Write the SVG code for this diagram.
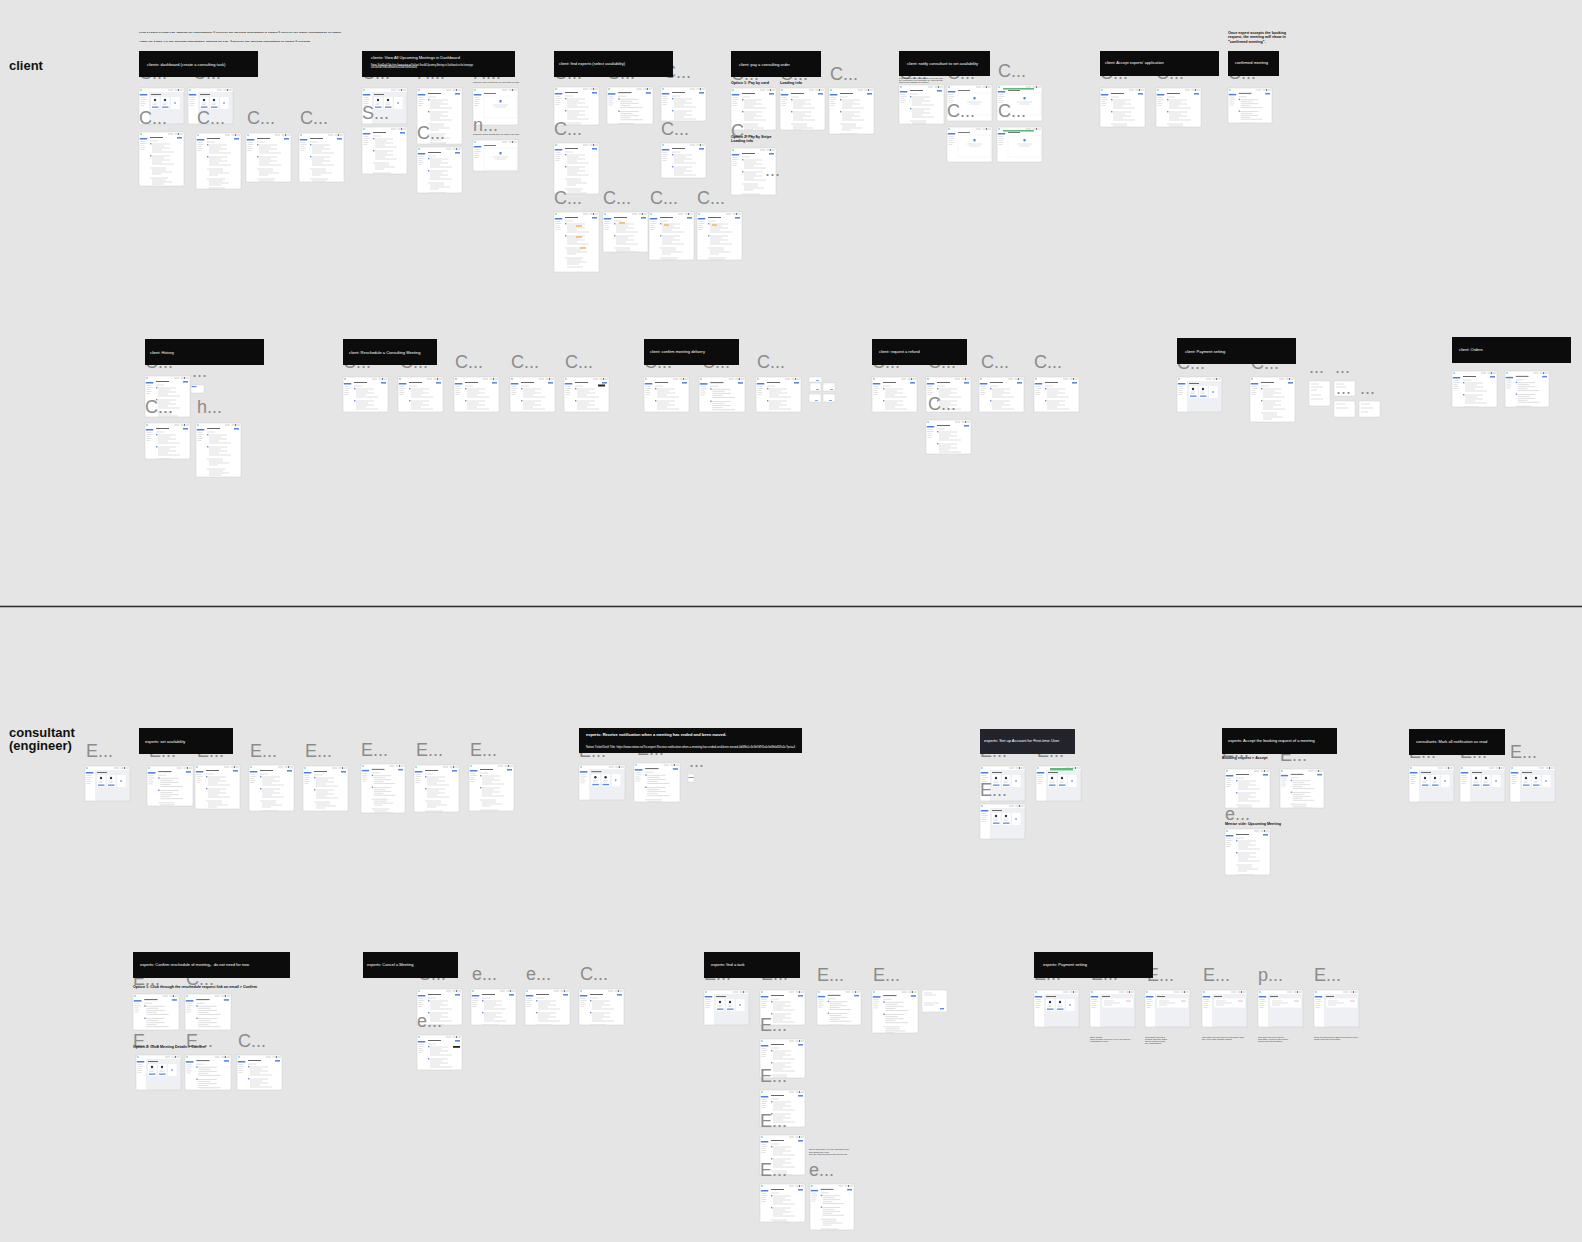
<svg xmlns="http://www.w3.org/2000/svg" xmlns:xlink="http://www.w3.org/1999/xlink" width="1582" height="1242" viewBox="0 0 1582 1242">
<style>
.hd{fill:#0c0c0c}
.ht{fill:#fff;font-family:"Liberation Sans",Arial,"Noto Sans CJK SC",sans-serif;font-size:4px}
.lb{fill:#8c8c8c;font-family:"Liberation Sans",Arial,sans-serif;font-size:18px}
.b{fill:none;stroke:#cdcdcd;stroke-width:.5}
.sc{fill:#fff;stroke:#cdcdcd;stroke-width:.4}
.nt{fill:#111;font-family:"Liberation Sans",Arial,sans-serif;font-weight:bold;font-size:3.7px}
.tt{fill:#333;font-family:"Liberation Sans",Arial,sans-serif;font-size:2.2px}
.sec{fill:#111;font-family:"Liberation Sans",Arial,sans-serif;font-weight:bold;font-size:13px}
.gr{fill:#5dbb7a}
</style>
<defs>
<g id="chr">
<rect width="45" height="60" fill="#fff"/>
<circle cx="2" cy="2" r=".8" fill="#35b5c5"/>
<path d="M29 2h5M35.5 2h2.5M41 2h3" stroke="#b5b5b5" stroke-width=".7"/>
<circle cx="39.5" cy="2" r=".8" fill="#333"/>
<rect x=".8" y="6" width="7.5" height="1.5" fill="#4d7fd9"/>
<path d="M1.5 9.5h5M1.5 11.5h6M1.5 13.5h4M1.5 15.5h5M1.5 17.5h4" stroke="#c4c4c4" stroke-width=".5"/>
</g>
<symbol id="ui" viewBox="0 0 45 60" preserveAspectRatio="xMinYMin slice">
<use href="#chr"/>
<path d="M11 5.5h13" stroke="#555" stroke-width=".9"/>
<rect x="38" y="5" width="5" height="1.6" fill="#5b8be0"/>
<path d="M11 9h8M11 12h20M13 14h12M13 16h18M13 18h10M13 20h22M11 24h20M13 26h12M13 28h18M13 30h10M13 32h22M11 36h16M13 38h14M13 40h20M13 42h9M11 46h18M13 48h14M13 50h20M13 52h12M13 55h16" stroke="#bdbdbd" stroke-width=".5"/>
<rect x="11" y="11" width="1.3" height="1.3" fill="#6a8fd8"/>
<rect x="11" y="23" width="1.3" height="1.3" fill="#6a8fd8"/>
</symbol>
<symbol id="ui2" viewBox="0 0 45 60" preserveAspectRatio="xMinYMin slice">
<use href="#chr"/>
<rect x="10" y="4" width="35" height="56" fill="#eef0f4"/>
<path d="M12 6.5h10" stroke="#444" stroke-width=".8"/>
<rect x="12" y="9" width="8.5" height="12" fill="#fff"/>
<rect x="22" y="9" width="8.5" height="12" fill="#fff"/>
<rect x="32" y="9" width="8.5" height="12" fill="#fff"/>
<circle cx="16" cy="12" r="1.2" fill="#2b3350"/>
<circle cx="26" cy="12" r="1.2" fill="#2b3350"/>
<path d="M36 14v2" stroke="#4d7fd9" stroke-width="1"/>
<path d="M13.5 15h5M23.5 15h5M13.5 16.5h4M23.5 16.5h4" stroke="#bbb" stroke-width=".4"/>
<rect x="13" y="18.5" width="6.5" height="1.3" fill="#5b8be0"/>
<rect x="23" y="18.5" width="6.5" height="1.3" fill="#5b8be0"/>
</symbol>
<symbol id="ui3" viewBox="0 0 45 60" preserveAspectRatio="xMinYMin slice">
<use href="#chr"/>
<path d="M11 5.5h12" stroke="#555" stroke-width=".8"/>
<rect x="11" y="8" width="33" height="22" fill="#fff" stroke="#e2e2e2" stroke-width=".3"/>
<rect x="26.5" y="12" width="2" height="2.4" fill="#4d7fd9"/>
<path d="M20 17h15M22 19h11" stroke="#bbb" stroke-width=".45"/>
</symbol>
<symbol id="ui4" viewBox="0 0 45 60" preserveAspectRatio="xMinYMin slice">
<use href="#chr"/>
<rect x="10" y="4" width="35" height="56" fill="#eef0f4"/>
<path d="M12 6.5h8" stroke="#444" stroke-width=".8"/>
<rect x="12" y="8.5" width="31" height="9" fill="#fff"/>
<path d="M14 11h10M14 13h16M14 15h8" stroke="#bbb" stroke-width=".45"/>
<path d="M36 11h5" stroke="#e07070" stroke-width=".5"/>
</symbol>
</defs>
<rect width="1582" height="1242" fill="#e5e5e5"/>
<g id="connectors"/>
<text class="sec" x="9" y="70">client</text>
<text class="sec" x="9" y="737">consultant</text>
<text class="sec" x="9" y="750">(engineer)</text>
<path d="M0 606.5H1582" stroke="#2b2b2b" stroke-width="1.5"/>

<g id="intro-notes">
<text class="tt" x="139" y="32.5" textLength="202" lengthAdjust="spacingAndGlyphs" font-weight="bold">First a expert clients Pay. Waiting for confirmation. ①Receive the meeting information in emails ②Receive the future informations in emails</text>
<text class="tt" x="139" y="41.5" textLength="171" lengthAdjust="spacingAndGlyphs" font-weight="bold">Apply for a task. Fill the meeting information. Waiting for Pay. ①Receive the meeting information in emails ②Clicking</text>
</g>

<g id="client-dashboard">
<use href="#ui2" x="139" y="88" width="45" height="36"/><rect class="b" x="139" y="88" width="45" height="36"/>
<use href="#ui2" x="188" y="88" width="45" height="36"/><rect class="b" x="188" y="88" width="45" height="36"/>
<use href="#ui" x="139" y="132" width="45" height="54"/><rect class="b" x="139" y="132" width="45" height="54"/>
<use href="#ui" x="196" y="133" width="45" height="56"/><rect class="b" x="196" y="133" width="45" height="56"/>
<use href="#ui" x="246" y="133" width="45" height="49"/><rect class="b" x="246" y="133" width="45" height="49"/>
<use href="#ui" x="299" y="133" width="45" height="49"/><rect class="b" x="299" y="133" width="45" height="49"/>
<text class="lb" x="139" y="79">C...</text><text class="lb" x="193" y="79">C...</text>
<text class="lb" x="139" y="124">C...</text><text class="lb" x="197" y="124">C...</text><text class="lb" x="247" y="124">C...</text><text class="lb" x="300" y="124">C...</text>
<rect class="hd" x="139" y="51" width="119" height="26"/>
<text class="ht" x="147" y="65.5">clients: dashboard (create a consulting task)</text>
</g>

<g id="client-upcoming">
<use href="#ui2" x="362" y="88" width="45" height="36"/><rect class="b" x="362" y="88" width="45" height="36"/>
<use href="#ui" x="362" y="127" width="45" height="47"/><rect class="b" x="362" y="127" width="45" height="47"/>
<use href="#ui" x="417" y="88" width="45" height="56"/><rect class="b" x="417" y="88" width="45" height="56"/>
<use href="#ui" x="417" y="147" width="45" height="46"/><rect class="b" x="417" y="147" width="45" height="46"/>
<use href="#ui3" x="473" y="88" width="45" height="37"/><rect class="b" x="473" y="88" width="45" height="37"/>
<use href="#ui3" x="473" y="140" width="45" height="31"/><rect class="b" x="473" y="140" width="45" height="31"/>
<text class="lb" x="362" y="79">C...</text><text class="lb" x="417" y="79">H...</text><text class="lb" x="473" y="79">H...</text>
<text class="lb" x="362" y="119">S...</text><text class="lb" x="417" y="139">C...</text><text class="lb" x="473" y="131">n...</text>
<text class="tt" x="473" y="83" font-size="1.6" textLength="46" lengthAdjust="spacingAndGlyphs">clipboard: when clients have no upcoming meeting</text>
<text class="tt" x="473" y="135" font-size="1.6" textLength="46" lengthAdjust="spacingAndGlyphs">clipboard: when clients have no history meeting</text>
<rect class="hd" x="362" y="51" width="153" height="26"/>
<text class="ht" x="371" y="58.5" font-size="4.3">clients: View All Upcoming Meetings in Dashboard</text>
<text class="ht" x="371" y="65.5" font-size="1.7" textLength="102" lengthAdjust="spacingAndGlyphs">Notion Ticket/Draft Title: https://www.notion.so/7ix/client-View-All-Upcoming-Meetings-in-Dashboard-on-the-homepage</text>
<text class="ht" x="371" y="68" font-size="1.7" textLength="46" lengthAdjust="spacingAndGlyphs">a1c3e5d7f9b2468ace0135b7d9f2e4c6</text>
</g>

<g id="client-find-experts">
<use href="#ui" x="554" y="87" width="45" height="38"/><rect class="b" x="554" y="87" width="45" height="38"/>
<use href="#ui" x="607" y="87" width="46" height="37"/><rect class="b" x="607" y="87" width="46" height="37"/>
<use href="#ui" x="661" y="87" width="45" height="34"/><rect class="b" x="661" y="87" width="45" height="34"/>
<use href="#ui" x="554" y="143" width="45" height="51"/><rect class="b" x="554" y="143" width="45" height="51"/>
<use href="#ui" x="661" y="143" width="45" height="35"/><rect class="b" x="661" y="143" width="45" height="35"/>
<use href="#ui" x="554" y="212" width="45" height="60"/><rect class="b" x="554" y="212" width="45" height="60"/>
<use href="#ui" x="603" y="212" width="45" height="40"/><rect class="b" x="603" y="212" width="45" height="40"/>
<use href="#ui" x="649" y="212" width="45" height="48"/><rect class="b" x="649" y="212" width="45" height="48"/>
<use href="#ui" x="697" y="212" width="45" height="48"/><rect class="b" x="697" y="212" width="45" height="48"/>
<g fill="#f1c48a"><rect x="576" y="225" width="6" height="2"/><rect x="576" y="236" width="6" height="2"/><rect x="580" y="247" width="6" height="2"/><rect x="619" y="222" width="6" height="2"/><rect x="664" y="224" width="5" height="2"/><rect x="712" y="224" width="5" height="2"/></g>
<text class="lb" x="554" y="79">C...</text><text class="lb" x="607" y="79">C...</text><text class="lb" x="663" y="78">C...</text>
<text class="lb" x="554" y="135">C...</text><text class="lb" x="661" y="135">C...</text>
<text class="lb" x="554" y="204">C...</text><text class="lb" x="603" y="204">C...</text><text class="lb" x="650" y="204">C...</text><text class="lb" x="697" y="204">C...</text>
<rect class="hd" x="554" y="51" width="119" height="26"/>
<text class="ht" x="559" y="65">client: find experts (select availability)</text>
</g>

<g id="client-pay">
<use href="#ui" x="731" y="88" width="45" height="42"/><rect class="b" x="731" y="88" width="45" height="42"/>
<use href="#ui" x="780" y="88" width="45" height="42"/><rect class="b" x="780" y="88" width="45" height="42"/>
<use href="#ui" x="829" y="88" width="45" height="46"/><rect class="b" x="829" y="88" width="45" height="46"/>
<use href="#ui" x="731" y="148" width="45" height="47"/><rect class="b" x="731" y="148" width="45" height="47"/>
<text class="lb" x="731" y="80">C...</text><text class="lb" x="780" y="80">C...</text><text class="lb" x="830" y="80">C...</text>
<text class="lb" x="731" y="137">C...</text>
<text class="lb" x="765" y="176">...</text>
<rect class="hd" x="731" y="51" width="90" height="26"/>
<text class="ht" x="739" y="65.5">client: pay a consulting order</text>
<text class="nt" x="731" y="83.5">Option 1: Pay by card</text>
<text class="nt" x="780" y="83.5">Loading info</text>
<text class="nt" x="731" y="137.5">Option 2: Pay by Stripe</text>
<text class="nt" x="731" y="142">Loading info</text>
</g>

<g id="client-notify">
<use href="#ui" x="899" y="85" width="45" height="39"/><rect class="b" x="899" y="85" width="45" height="39"/>
<use href="#ui3" x="947" y="85" width="45" height="36"/><rect class="b" x="947" y="85" width="45" height="36"/>
<use href="#ui3" x="997" y="85" width="45" height="36"/><rect class="b" x="997" y="85" width="45" height="36"/><rect class="gr" x="1003" y="88" width="31" height="1.6"/>
<use href="#ui3" x="947" y="127" width="45" height="35"/><rect class="b" x="947" y="127" width="45" height="35"/>
<use href="#ui3" x="997" y="127" width="45" height="35"/><rect class="b" x="997" y="127" width="45" height="35"/><rect class="gr" x="1003" y="130" width="31" height="1.6"/>
<text class="lb" x="899" y="79">C...</text><text class="lb" x="947" y="79">C...</text><text class="lb" x="998" y="77">C...</text>
<text class="lb" x="947" y="117">C...</text><text class="lb" x="998" y="117">C...</text>
<rect class="hd" x="899" y="51" width="91" height="25"/>
<text class="ht" x="907" y="65">client: notify consultant to set availability</text>
<text class="tt" x="899" y="79" font-size="1.5" textLength="44" lengthAdjust="spacingAndGlyphs">If the consultant has no availability, client can notify</text>
<text class="tt" x="899" y="80.8" font-size="1.5" textLength="44" lengthAdjust="spacingAndGlyphs">the consultant to set availability by email and the</text>
<text class="tt" x="899" y="82.6" font-size="1.5" textLength="30" lengthAdjust="spacingAndGlyphs">button will change to notified.</text>
</g>

<g id="client-accept">
<use href="#ui" x="1100" y="88" width="45" height="39"/><rect class="b" x="1100" y="88" width="45" height="39"/>
<use href="#ui" x="1156" y="88" width="45" height="39"/><rect class="b" x="1156" y="88" width="45" height="39"/>
<text class="lb" x="1100" y="79">C...</text><text class="lb" x="1156" y="79">C...</text>
<rect class="hd" x="1100" y="51" width="119" height="25"/>
<text class="ht" x="1105" y="64">client: Accept experts' application</text>
</g>

<g id="client-confirmed">
<use href="#ui" x="1228" y="88" width="44" height="35"/><rect class="b" x="1228" y="88" width="44" height="35"/>
<text class="lb" x="1228" y="79">C...</text>
<rect class="hd" x="1228" y="51" width="51" height="25"/>
<text class="ht" x="1235" y="64">confirmed meeting</text>
<text class="nt" x="1228" y="33.5" font-size="3.9">Once expert accepts the booking</text>
<text class="nt" x="1228" y="38" font-size="3.9">request, the meeting will show in</text>
<text class="nt" x="1228" y="42.5" font-size="3.9">"confirmed meeting".</text>
</g>

<g id="client-history">
<use href="#ui" x="145" y="376" width="45" height="41"/><rect class="b" x="145" y="376" width="45" height="41"/>
<rect class="sc" x="191" y="385" width="13" height="8"/><rect x="191.5" y="386" width="5" height="1.2" fill="#5b8be0"/>
<use href="#ui" x="145" y="423" width="45" height="36"/><rect class="b" x="145" y="423" width="45" height="36"/>
<use href="#ui" x="196" y="423" width="45" height="54"/><rect class="b" x="196" y="423" width="45" height="54"/>
<text class="lb" x="145" y="368">C...</text><text class="lb" x="192" y="377">...</text>
<text class="lb" x="145" y="413">C...</text><text class="lb" x="197" y="413">h...</text>
<rect class="hd" x="145" y="339" width="119" height="26"/>
<text class="ht" x="150" y="353.5">client: History</text>
</g>

<g id="client-reschedule">
<use href="#ui" x="343" y="377" width="45" height="35"/><rect class="b" x="343" y="377" width="45" height="35"/>
<use href="#ui" x="398" y="377" width="45" height="35"/><rect class="b" x="398" y="377" width="45" height="35"/>
<use href="#ui" x="454" y="377" width="45" height="35"/><rect class="b" x="454" y="377" width="45" height="35"/>
<use href="#ui" x="510" y="377" width="45" height="35"/><rect class="b" x="510" y="377" width="45" height="35"/>
<use href="#ui" x="564" y="377" width="45" height="35"/><rect class="b" x="564" y="377" width="45" height="35"/>
<rect x="598" y="384.5" width="7" height="2" fill="#222"/>
<text class="lb" x="343" y="368">C...</text><text class="lb" x="400" y="368">C...</text><text class="lb" x="455" y="368">C...</text><text class="lb" x="511" y="368">C...</text><text class="lb" x="565" y="368">C...</text>
<rect class="hd" x="343" y="339" width="94" height="26"/>
<text class="ht" x="349" y="353.5">client: Reschedule a Consulting Meeting</text>
</g>

<g id="client-confirm-delivery">
<use href="#ui" x="644" y="377" width="45" height="35"/><rect class="b" x="644" y="377" width="45" height="35"/>
<use href="#ui" x="699" y="377" width="46" height="35"/><rect class="b" x="699" y="377" width="46" height="35"/>
<use href="#ui" x="756" y="377" width="45" height="35"/><rect class="b" x="756" y="377" width="45" height="35"/>
<rect class="sc" x="809" y="377" width="13" height="5"/>
<rect class="sc" x="810" y="383" width="11" height="8"/>
<rect class="sc" x="823" y="383" width="12" height="8"/>
<rect class="sc" x="809" y="394" width="12" height="8"/>
<rect class="sc" x="823" y="394" width="12" height="8"/>
<g fill="#6a8fd8"><rect x="816" y="380" width="3" height=".8"/><rect x="816" y="389" width="3" height=".8"/><rect x="830" y="389" width="3" height=".8"/><rect x="815" y="400" width="3" height=".8"/><rect x="829" y="400" width="3" height=".8"/></g>
<text class="lb" x="644" y="368">C...</text><text class="lb" x="702" y="368">C...</text><text class="lb" x="757" y="368">C...</text>
<rect class="hd" x="644" y="339" width="95" height="26"/>
<text class="ht" x="650" y="353">client: confirm meeting delivery</text>
</g>

<g id="client-refund">
<use href="#ui" x="872" y="377" width="45" height="35"/><rect class="b" x="872" y="377" width="45" height="35"/>
<use href="#ui" x="926" y="377" width="45" height="35"/><rect class="b" x="926" y="377" width="45" height="35"/>
<use href="#ui" x="979" y="377" width="45" height="35"/><rect class="b" x="979" y="377" width="45" height="35"/>
<use href="#ui" x="1034" y="377" width="45" height="35"/><rect class="b" x="1034" y="377" width="45" height="35"/>
<use href="#ui" x="926" y="420" width="45" height="34"/><rect class="b" x="926" y="420" width="45" height="34"/>
<text class="lb" x="872" y="368">C...</text><text class="lb" x="928" y="368">C...</text><text class="lb" x="981" y="368">C...</text><text class="lb" x="1034" y="368">C...</text>
<text class="lb" x="928" y="410">C...</text>
<rect class="hd" x="872" y="339" width="95" height="26"/>
<text class="ht" x="879" y="353">client: request a refund</text>
</g>

<g id="client-payment-setting">
<use href="#ui2" x="1177" y="377" width="45" height="35"/><rect class="b" x="1177" y="377" width="45" height="35"/>
<use href="#ui" x="1250" y="377" width="45" height="45"/><rect class="b" x="1250" y="377" width="45" height="45"/>
<rect class="sc" x="1309" y="381" width="21" height="25"/>
<rect class="sc" x="1334" y="381" width="21" height="15"/>
<rect class="sc" x="1334" y="401" width="21" height="16"/>
<rect class="sc" x="1359" y="401" width="21" height="16"/>
<path d="M1311 384h8M1311 387h12M1311 390h6M1311 395h10M1311 399h12M1336 384h8M1336 387h10M1336 404h9M1336 408h12M1361 404h9M1361 408h12M1361 412h7" stroke="#bdbdbd" stroke-width=".5"/>
<text class="lb" x="1177" y="369">C...</text><text class="lb" x="1251" y="369">C...</text>
<text class="lb" x="1309" y="373">...</text><text class="lb" x="1335" y="373">...</text>
<text class="lb" x="1336" y="394">...</text><text class="lb" x="1360" y="394">...</text>
<rect class="hd" x="1177" y="338" width="119" height="26"/>
<text class="ht" x="1185" y="352.5">client: Payment setting</text>
</g>

<g id="client-orders">
<use href="#ui" x="1452" y="371" width="45" height="36"/><rect class="b" x="1452" y="371" width="45" height="36"/>
<use href="#ui" x="1505" y="371" width="44" height="36"/><rect class="b" x="1505" y="371" width="44" height="36"/>
<rect class="hd" x="1452" y="337" width="119" height="26"/>
<text class="ht" x="1459" y="351">client: Orders</text>
</g>

<g id="experts-set-availability">
<use href="#ui2" x="85" y="766" width="45" height="35"/><rect class="b" x="85" y="766" width="45" height="35"/>
<use href="#ui" x="147" y="766" width="46" height="40"/><rect class="b" x="147" y="766" width="46" height="40"/>
<use href="#ui" x="195" y="765" width="45" height="44"/><rect class="b" x="195" y="765" width="45" height="44"/>
<use href="#ui" x="249" y="765" width="45" height="46"/><rect class="b" x="249" y="765" width="45" height="46"/>
<use href="#ui" x="303" y="766" width="45" height="45"/><rect class="b" x="303" y="766" width="45" height="45"/>
<use href="#ui" x="361" y="764" width="44" height="49"/><rect class="b" x="361" y="764" width="44" height="49"/>
<use href="#ui" x="414" y="765" width="45" height="47"/><rect class="b" x="414" y="765" width="45" height="47"/>
<use href="#ui" x="469" y="764" width="45" height="47"/><rect class="b" x="469" y="764" width="45" height="47"/>
<text class="lb" x="86" y="757">E...</text><text class="lb" x="149" y="757">E...</text><text class="lb" x="197" y="757">E...</text>
<text class="lb" x="250" y="757">E...</text><text class="lb" x="305" y="757">E...</text><text class="lb" x="361" y="756">E...</text><text class="lb" x="416" y="756">E...</text><text class="lb" x="470" y="756">E...</text>
<rect class="hd" x="139" y="728" width="94" height="26"/>
<text class="ht" x="145" y="742.5">experts: set availability</text>
</g>

<g id="experts-receive-notification">
<use href="#ui2" x="579" y="765" width="46" height="35"/><rect class="b" x="579" y="765" width="46" height="35"/>
<use href="#ui" x="634" y="763" width="46" height="39"/><rect class="b" x="634" y="763" width="46" height="39"/>
<rect class="sc" x="688" y="774" width="6" height="8"/><rect x="688.5" y="777" width="5" height="1" fill="#6a8fd8"/>
<text class="lb" x="579" y="757">E...</text><text class="lb" x="637" y="755">E...</text>
<text class="lb" x="689" y="767">...</text>
<rect class="hd" x="579" y="728" width="223" height="25"/>
<text class="ht" x="586" y="735.5" font-size="4.3" font-weight="bold">experts: Receive notification when a meeting has ended and been moved.</text>
<text class="ht" x="586" y="748" font-size="1.8" textLength="209" lengthAdjust="spacingAndGlyphs">Notion Ticket/Draft Title: https://www.notion.so/7ix-expert-Receive-notification-when-a-meeting-has-ended-and-been-moved-4d6f8a1c3e5b7d9f2a4c6e8b0d1f3a5c?pvs=4</text>
</g>

<g id="experts-setup-account">
<use href="#ui2" x="980" y="766" width="45" height="35"/><rect class="b" x="980" y="766" width="45" height="35"/>
<use href="#ui2" x="1036" y="766" width="45" height="35"/><rect class="b" x="1036" y="766" width="45" height="35"/><rect class="gr" x="1050" y="768" width="23" height="2.4"/>
<use href="#ui2" x="980" y="804" width="45" height="35"/><rect class="b" x="980" y="804" width="45" height="35"/>
<text class="lb" x="980" y="757">E...</text><text class="lb" x="1037" y="757">E...</text>
<text class="lb" x="980" y="796">E...</text>
<rect x="980" y="729" width="95" height="25" fill="#23232b"/>
<text class="ht" x="984" y="742">experts: Set up Account for First-time User</text>
</g>

<g id="experts-accept-booking">
<use href="#ui" x="1225" y="769" width="45" height="39"/><rect class="b" x="1225" y="769" width="45" height="39"/>
<use href="#ui" x="1280" y="769" width="44" height="39"/><rect class="b" x="1280" y="769" width="44" height="39"/>
<use href="#ui" x="1225" y="829" width="45" height="46"/><rect class="b" x="1225" y="829" width="45" height="46"/>
<text class="lb" x="1222" y="757">E...</text><text class="lb" x="1280" y="761">E...</text>
<text class="lb" x="1225" y="820">e...</text>
<rect class="hd" x="1222" y="728" width="115" height="26"/>
<text class="ht" x="1228" y="742">experts: Accept the booking request of a meeting</text>
<text class="nt" x="1222" y="758.5">Booking request &gt; Accept</text>
<text class="nt" x="1225" y="824.5" font-size="2.8">Mentor side: Upcoming Meeting</text>
</g>

<g id="consultants-mark-read">
<use href="#ui2" x="1409" y="766" width="45" height="36"/><rect class="b" x="1409" y="766" width="45" height="36"/>
<use href="#ui2" x="1460" y="766" width="45" height="36"/><rect class="b" x="1460" y="766" width="45" height="36"/>
<use href="#ui2" x="1510" y="766" width="45" height="36"/><rect class="b" x="1510" y="766" width="45" height="36"/>
<text class="lb" x="1409" y="758">E...</text><text class="lb" x="1460" y="758">E...</text><text class="lb" x="1510" y="758">E...</text>
<rect class="hd" x="1409" y="729" width="96" height="26"/>
<text class="ht" x="1416" y="743">consultants: Mark all notification as read</text>
</g>

<g id="experts-confirm-reschedule">
<use href="#ui" x="133" y="994" width="46" height="36"/><rect class="b" x="133" y="994" width="46" height="36"/>
<use href="#ui" x="185" y="994" width="46" height="36"/><rect class="b" x="185" y="994" width="46" height="36"/>
<use href="#ui2" x="136" y="1055" width="45" height="35"/><rect class="b" x="136" y="1055" width="45" height="35"/>
<use href="#ui" x="185" y="1055" width="46" height="35"/><rect class="b" x="185" y="1055" width="46" height="35"/>
<use href="#ui" x="237" y="1055" width="45" height="35"/><rect class="b" x="237" y="1055" width="45" height="35"/>
<text class="lb" x="133" y="985">E...</text><text class="lb" x="186" y="985">C...</text>
<text class="lb" x="133" y="1047">E...</text><text class="lb" x="186" y="1047">E...</text><text class="lb" x="238" y="1047">C...</text>
<rect class="hd" x="133" y="952" width="157" height="26"/>
<text class="ht" x="140" y="966">experts: Confirm reschedule of meeting，do not need for now</text>
<text class="nt" x="133" y="988">Option 1: Click through the reschedule request link on email &gt; Confirm</text>
<text class="nt" x="133" y="1047.5">Option 2: Click Meeting Details &gt; Confirm</text>
</g>

<g id="experts-cancel-meeting">
<use href="#ui" x="417" y="989" width="45" height="36"/><rect class="b" x="417" y="989" width="45" height="36"/>
<use href="#ui" x="471" y="989" width="45" height="36"/><rect class="b" x="471" y="989" width="45" height="36"/>
<use href="#ui" x="525" y="989" width="45" height="36"/><rect class="b" x="525" y="989" width="45" height="36"/>
<use href="#ui" x="579" y="989" width="45" height="36"/><rect class="b" x="579" y="989" width="45" height="36"/>
<use href="#ui" x="417" y="1035" width="45" height="35"/><rect class="b" x="417" y="1035" width="45" height="35"/>
<rect x="453" y="1046" width="7" height="1.8" fill="#222"/>
<text class="lb" x="418" y="980">C...</text><text class="lb" x="472" y="980">e...</text><text class="lb" x="526" y="980">e...</text><text class="lb" x="580" y="980">C...</text>
<text class="lb" x="417" y="1027">e...</text>
<rect class="hd" x="363" y="952" width="95" height="26"/>
<text class="ht" x="367" y="966">experts: Cancel a Meeting</text>
</g>

<g id="experts-find-task">
<use href="#ui2" x="704" y="990" width="45" height="35"/><rect class="b" x="704" y="990" width="45" height="35"/>
<use href="#ui" x="760" y="990" width="45" height="35"/><rect class="b" x="760" y="990" width="45" height="35"/>
<use href="#ui" x="817" y="990" width="44" height="35"/><rect class="b" x="817" y="990" width="44" height="35"/>
<use href="#ui" x="872" y="990" width="46" height="43"/><rect class="b" x="872" y="990" width="46" height="43"/>
<rect class="sc" x="922" y="990" width="25" height="22"/><path d="M924 993h8M924 995h12M924 1003h15M924 1005h10" stroke="#bdbdbd" stroke-width=".5"/><rect x="940" y="1008" width="4" height="1.4" fill="#5b8be0"/>
<use href="#ui" x="760" y="1039" width="45" height="39"/><rect class="b" x="760" y="1039" width="45" height="39"/>
<use href="#ui" x="760" y="1090" width="45" height="37"/><rect class="b" x="760" y="1090" width="45" height="37"/>
<use href="#ui" x="760" y="1135" width="45" height="40"/><rect class="b" x="760" y="1135" width="45" height="40"/>
<use href="#ui" x="760" y="1184" width="45" height="38"/><rect class="b" x="760" y="1184" width="45" height="38"/>
<use href="#ui" x="810" y="1184" width="44" height="46"/><rect class="b" x="810" y="1184" width="44" height="46"/>
<text class="lb" x="704" y="980">E...</text><text class="lb" x="761" y="980">E...</text><text class="lb" x="817" y="981">E...</text><text class="lb" x="873" y="981">E...</text>
<text class="lb" x="760" y="1031">E...</text><text class="lb" x="760" y="1082">E...</text><text class="lb" x="760" y="1127">E...</text>
<text class="lb" x="760" y="1176">E...</text><text class="lb" x="809" y="1176">e...</text>
<text class="tt" x="809" y="1150" font-size="1.6" textLength="40" lengthAdjust="spacingAndGlyphs">Expert clicks apply, fill in the application form</text>
<text class="tt" x="809" y="1152.5" font-size="1.6" textLength="20" lengthAdjust="spacingAndGlyphs">and submit the form</text>
<text class="tt" x="809" y="1155" font-size="1.6" textLength="38" lengthAdjust="spacingAndGlyphs">then the task will show in the applied list</text>
<rect class="hd" x="704" y="952" width="96" height="26"/>
<text class="ht" x="711" y="966">experts: find a task</text>
</g>

<g id="experts-payment-setting">
<use href="#ui2" x="1034" y="990" width="45" height="37"/><rect class="b" x="1034" y="990" width="45" height="37"/>
<use href="#ui4" x="1090" y="990" width="45" height="37"/><rect class="b" x="1090" y="990" width="45" height="37"/>
<use href="#ui4" x="1145" y="990" width="45" height="37"/><rect class="b" x="1145" y="990" width="45" height="37"/>
<use href="#ui4" x="1202" y="990" width="45" height="37"/><rect class="b" x="1202" y="990" width="45" height="37"/>
<use href="#ui4" x="1258" y="990" width="45" height="37"/><rect class="b" x="1258" y="990" width="45" height="37"/>
<use href="#ui4" x="1314" y="990" width="45" height="37"/><rect class="b" x="1314" y="990" width="45" height="37"/>
<text class="lb" x="1034" y="980">E...</text><text class="lb" x="1091" y="980">E...</text><text class="lb" x="1147" y="981">E...</text><text class="lb" x="1203" y="981">E...</text><text class="lb" x="1258" y="981">p...</text><text class="lb" x="1314" y="981">E...</text>
<g class="tt" font-size="1.5">
<text x="1090" y="1038" textLength="12" lengthAdjust="spacingAndGlyphs">Stripe setting</text>
<text x="1090" y="1040" textLength="40" lengthAdjust="spacingAndGlyphs">Connect a Stripe account to receive payouts from</text>
<text x="1090" y="1042" textLength="18" lengthAdjust="spacingAndGlyphs">consulting orders</text>
<text x="1145" y="1037.5" textLength="20" lengthAdjust="spacingAndGlyphs">When Stripe account is</text>
<text x="1145" y="1039.5" textLength="22" lengthAdjust="spacingAndGlyphs">pending, show the status</text>
<text x="1145" y="1041.5" textLength="20" lengthAdjust="spacingAndGlyphs">and the button to finish</text>
<text x="1145" y="1043.5" textLength="16" lengthAdjust="spacingAndGlyphs">the onboarding</text>
<text x="1202" y="1038" textLength="42" lengthAdjust="spacingAndGlyphs">When Stripe account needs more information, show</text>
<text x="1202" y="1040" textLength="30" lengthAdjust="spacingAndGlyphs">the error and update button</text>
<text x="1258" y="1037.5" textLength="26" lengthAdjust="spacingAndGlyphs">When Stripe account is connected</text>
<text x="1258" y="1039.5" textLength="30" lengthAdjust="spacingAndGlyphs">successfully, show payouts enabled</text>
<text x="1258" y="1041.5" textLength="24" lengthAdjust="spacingAndGlyphs">and the account information</text>
<text x="1314" y="1038" textLength="44" lengthAdjust="spacingAndGlyphs">Expert can disconnect the Stripe account and connect</text>
<text x="1314" y="1040" textLength="26" lengthAdjust="spacingAndGlyphs">another account in the setting</text>
</g>
<rect class="hd" x="1034" y="952" width="119" height="26"/>
<text class="ht" x="1043" y="966">experts: Payment setting</text>
</g>
</svg>
